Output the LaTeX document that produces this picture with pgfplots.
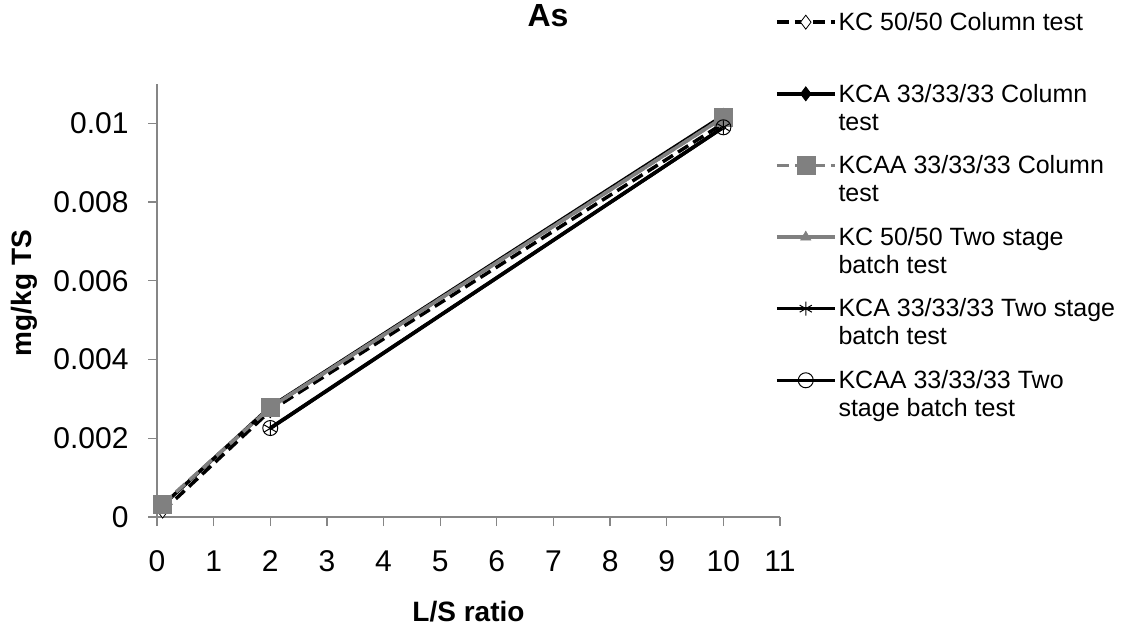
\documentclass[border=0pt]{standalone}
\usepackage{fontspec}
\setmainfont{Liberation Sans}
\usepackage{pgfplots}
\pgfplotsset{compat=1.18}
\definecolor{axgray}{HTML}{868686}
\definecolor{sgray}{HTML}{808080}
\begin{document}
\begin{tikzpicture}[x=1pt,y=1pt]
\useasboundingbox (0,0) rectangle (1123,630);
\begin{axis}[
  at={(157pt,113pt)}, anchor=south west,
  scale only axis, width=623pt, height=433pt,
  xmin=0, xmax=11, ymin=0, ymax=0.011,
  xtick={0,1,2,3,4,5,6,7,8,9,10,11},
  ytick={0,0.002,0.004,0.006,0.008,0.01},
  scaled y ticks=false,
  axis x line*=bottom, axis y line*=left,
  axis line style={axgray, line width=1.5pt, -},
  tick style={axgray, line width=1.2pt},
  major tick length=9pt, tick align=outside,
  /pgf/number format/assume math mode=true,
  yticklabel style={/pgf/number format/fixed, /pgf/number format/precision=3, xshift=-16pt},
  xticklabel style={yshift=-21pt},
  ticklabel style={font=\fontsize{30}{34}\selectfont, black},
  clip=false,
  title={As},
  title style={at={(axis description cs:0.6276,1.143)}, anchor=center, font=\bfseries\fontsize{32}{36}\selectfont},
  xlabel={L/S ratio},
  xlabel style={at={(axis description cs:0.5,-0.219)}, anchor=center, font=\bfseries\fontsize{28}{32}\selectfont},
  ylabel={mg/kg TS},
  ylabel style={at={(axis description cs:-0.2135,0.517)}, anchor=center, rotate=0, font=\bfseries\fontsize{28}{32}\selectfont},
  legend style={at={(axis description cs:0.992,1.170)}, anchor=north west, draw=none, fill=none,
    inner sep=0pt, outer sep=0pt, row sep=20pt, font=\fontsize{25}{28}\selectfont,
    cells={anchor=west, align=left},
    /tikz/every even column/.append style={column sep=6pt}},
  legend image code/.code={
    \draw[mark repeat=2, mark phase=2, yshift=14pt, #1] plot coordinates {(0pt,0pt) (29pt,0pt) (58pt,0pt)};
  },
]
\addplot[black, line width=3.5pt, dash pattern=on 12pt off 6pt, mark=diamond*, mark size=7pt,
  mark options={solid, fill=white, draw=black, line width=0.8pt}]
  coordinates {(0.1,0.00015) (2,0.0027) (10,0.0100)};
\addlegendentry{KC 50/50 Column test\\\strut}
\addplot[black, line width=3.5pt, mark=diamond*, mark size=7pt,
  mark options={solid, fill=black, line width=0.8pt}]
  coordinates {(0.1,0.0003) (2,0.0028) (10,0.0102)};
\addlegendentry{KCA 33/33/33 Column\\test}
\addplot[sgray, line width=3.5pt, dash pattern=on 12pt off 6pt, mark=square*, mark size=9pt,
  mark options={solid, fill=sgray, draw=sgray, line width=0.5pt}]
  coordinates {(0.1,0.00033) (2,0.00278) (10,0.01015)};
\addlegendentry{KCAA 33/33/33 Column\\test}
\addplot[sgray, line width=3.5pt, mark=triangle*, mark size=6pt,
  mark options={solid, fill=sgray, draw=sgray, line width=0.5pt}]
  coordinates {(2,0.00278) (10,0.01015)};
\addlegendentry{KC 50/50 Two stage\\batch test}
\addplot[black, line width=3.5pt, mark=asterisk, mark size=7pt,
  mark options={solid, line width=1pt}]
  coordinates {(2,0.00225) (10,0.0099)};
\addlegendentry{KCA 33/33/33 Two stage\\batch test}
\addplot[black, line width=3.5pt, mark=o, mark size=7.5pt,
  mark options={solid, line width=1pt}]
  coordinates {(2,0.00226) (10,0.0099)};
\addlegendentry{KCAA 33/33/33 Two\\stage batch test}
\end{axis}
\end{tikzpicture}
\end{document}
